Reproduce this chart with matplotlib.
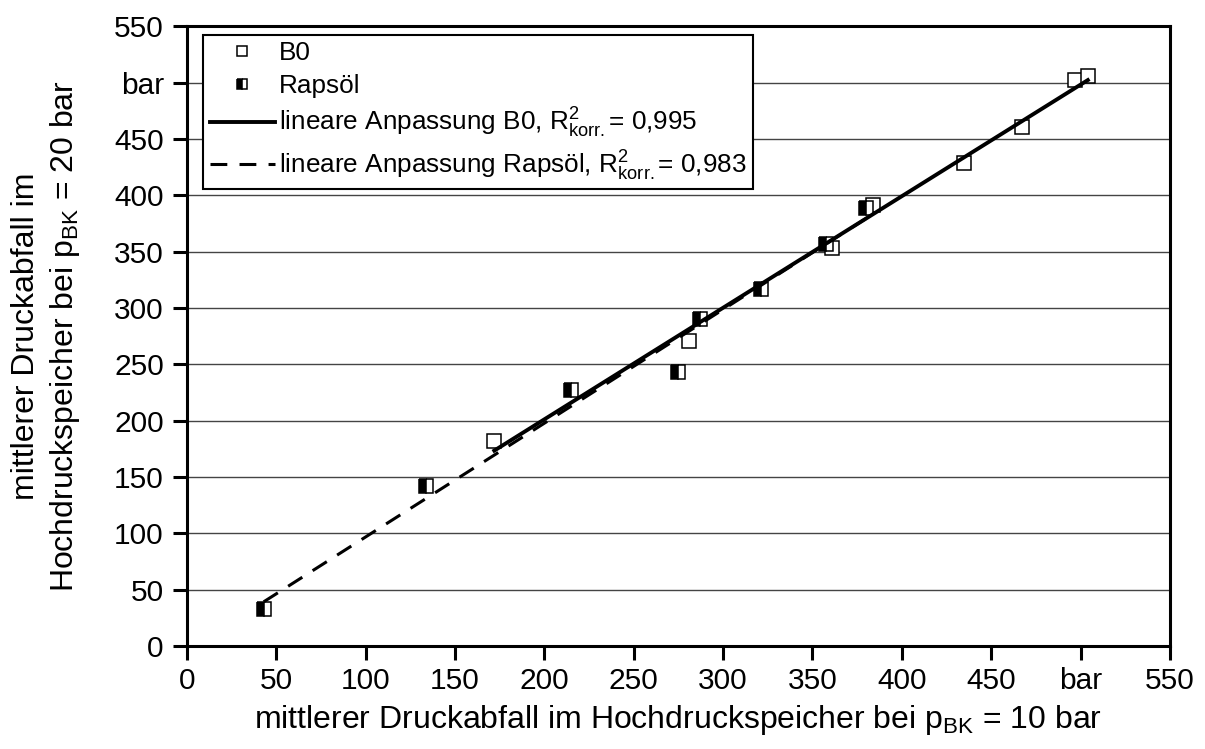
import matplotlib
matplotlib.use("Agg")
import matplotlib.pyplot as plt
import numpy as np

# (bar)
b0_x = [172, 281, 361, 384, 435, 467, 497, 504]
b0_y = [182, 271, 353.5, 391, 429, 461, 502, 506]
raps_x = [43, 134, 215, 275, 287, 321, 357.5, 380]
raps_y = [33, 142, 227, 243, 290, 317, 357, 389]

ticks = list(range(0, 551, 50))
tick_labels = [str(t) if t != 500 else "bar" for t in ticks]

r2_b0 = "0,995"
r2_raps = "0,983"


def main() -> None:
    plt.rcParams["font.family"] = ["Liberation Sans", "DejaVu Sans"]
    plt.rcParams["mathtext.fontset"] = "custom"
    plt.rcParams["mathtext.rm"] = "Liberation Sans"
    plt.rcParams["mathtext.it"] = "Liberation Sans:italic"

    fig = plt.figure(figsize=(12.05, 7.49), dpi=100)
    ax = fig.add_axes([0.155, 0.1375, 0.816, 0.8275])

    # grid first so the marks sit on top
    ax.set_axisbelow(True)
    ax.yaxis.grid(True, color="#444444", linewidth=1.0)

    ax.plot(b0_x, b0_y, linestyle="none", marker="s", markersize=10,
            markerfacecolor="white", markeredgecolor="black",
            markeredgewidth=1.1, label="B0", zorder=3)
    ax.plot(raps_x, raps_y, linestyle="none", marker="s", markersize=10,
            fillstyle="left", markerfacecolor="black",
            markerfacecoloralt="white", markeredgecolor="black",
            markeredgewidth=1.1, label="Rapsöl", zorder=3)

    # linear fits
    k, d = np.polyfit(b0_x, b0_y, 1)
    xs = np.array([min(b0_x), max(b0_x)])
    ax.plot(xs, k * xs + d, color="black", linewidth=2.8, zorder=4,
            label=r"lineare Anpassung B0, R$^2_{\mathrm{korr.}}$= " + r2_b0)
    k, d = np.polyfit(raps_x, raps_y, 1)
    xs = np.array([min(raps_x), max(raps_x)])
    ax.plot(xs, k * xs + d, color="black", linewidth=2.2, zorder=4,
            linestyle=(0, (5.5, 4)),
            label=r"lineare Anpassung Rapsöl, R$^2_{\mathrm{korr.}}$= " + r2_raps)

    ax.set_xlim(0, 550)
    ax.set_ylim(0, 550)
    ax.set_xticks(ticks)
    ax.set_xticklabels(tick_labels)
    ax.set_yticks(ticks)
    ax.set_yticklabels(tick_labels)
    ax.tick_params(direction="out", length=10, width=2.2, labelsize=21.5)
    ax.tick_params(axis="x", pad=5)
    ax.tick_params(axis="y", pad=6.5)

    for s in ax.spines.values():
        s.set_linewidth(2.2)

    ax.set_xlabel(r"mittlerer Druckabfall im Hochdruckspeicher bei p$_{\mathrm{BK}}$ = 10 bar",
                  fontsize=23, labelpad=6)
    ax.set_ylabel("mittlerer Druckabfall im\n"
                  r"Hochdruckspeicher bei p$_{\mathrm{BK}}$ = 20 bar",
                  fontsize=23, labelpad=23, linespacing=1.3)

    leg = ax.legend(loc="upper left", bbox_to_anchor=(0.0165, 0.986),
                    fontsize=18.8, frameon=True, fancybox=False,
                    edgecolor="black", framealpha=1, borderpad=0.25,
                    handlelength=2.5, handletextpad=0.15, labelspacing=0.32,
                    markerscale=0.75, borderaxespad=0)
    leg.get_frame().set_linewidth(1.5)

    fig.savefig("out.png", dpi=100)


if __name__ == "__main__":
    main()
